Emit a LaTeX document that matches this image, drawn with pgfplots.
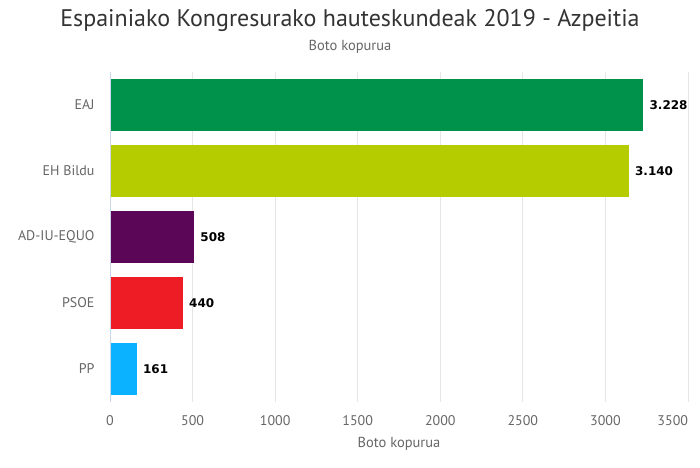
\documentclass[border=0pt]{standalone}
\usepackage{pgfplots}
\pgfplotsset{compat=1.18}
\usepackage{fontspec}
\setmainfont{PT Sans}
\newfontfamily\dlfont{DejaVu Sans}
\definecolor{cEAJ}{HTML}{00914A}
\definecolor{cBildu}{HTML}{B5CD00}
\definecolor{cAD}{HTML}{5B0656}
\definecolor{cPSOE}{HTML}{EE1C25}
\definecolor{cPP}{HTML}{0BB2FF}
\definecolor{tgray}{HTML}{666666}
\definecolor{ttitle}{HTML}{333333}
\definecolor{gridc}{HTML}{E6E6E6}
\definecolor{axisc}{HTML}{CCD6EB}
\begin{document}
\begin{tikzpicture}
\useasboundingbox (0,0) rectangle (700pt,467pt);
\node[anchor=base, text=ttitle, font=\fontsize{24}{28}\selectfont] at (350pt,440pt) {Espainiako Kongresurako hauteskundeak 2019 - Azpeitia};
\node[anchor=base, text=tgray, font=\fontsize{14.5}{17}\selectfont] at (350pt,417pt) {Boto kopurua};
\begin{axis}[
  at={(110pt,65pt)}, anchor=south west,
  scale only axis, width=578pt, height=330pt,
  xbar, bar width=52pt, bar shift=0pt,
  xmin=0, xmax=3500, ymin=-0.5, ymax=4.5,
  xtick={0,500,...,3500},
  xticklabels={0,500,1000,1500,2000,2500,3000,\makebox[0pt][r]{3500}},
  ytick={0,...,4},
  yticklabels={PP,PSOE,AD-IU-EQUO,EH Bildu,EAJ},
  major tick length=0pt,
  xmajorgrids, grid style={gridc, line width=0.8pt},
  axis line style={draw=none},
  xticklabel style={font=\fontsize{14}{16}\selectfont, text=tgray, yshift=-10pt},
  yticklabel style={font=\fontsize{14}{16}\selectfont, text=tgray, xshift=-12pt},
  xlabel={Boto kopurua},
  xlabel style={font=\fontsize{14.5}{17}\selectfont, text=tgray, yshift=-5pt},
  nodes near coords={\pgfmathprintnumber[1000 sep={.}, assume math mode=true]{\pgfplotspointmeta}},
  every node near coord/.append style={font=\dlfont\bfseries\fontsize{12}{14}\selectfont, text=black, anchor=west, xshift=3pt},
  clip=false,
]
\addplot[draw=none, fill=cPP] coordinates {(161,0)};
\addplot[draw=none, fill=cPSOE] coordinates {(440,1)};
\addplot[draw=none, fill=cAD] coordinates {(508,2)};
\addplot[draw=none, fill=cBildu] coordinates {(3140,3)};
\addplot[draw=none, fill=cEAJ] coordinates {(3228,4)};
\draw[axisc, line width=0.8pt] (axis cs:0,-0.5) -- (axis cs:0,4.5);
\end{axis}
\end{tikzpicture}
\end{document}
